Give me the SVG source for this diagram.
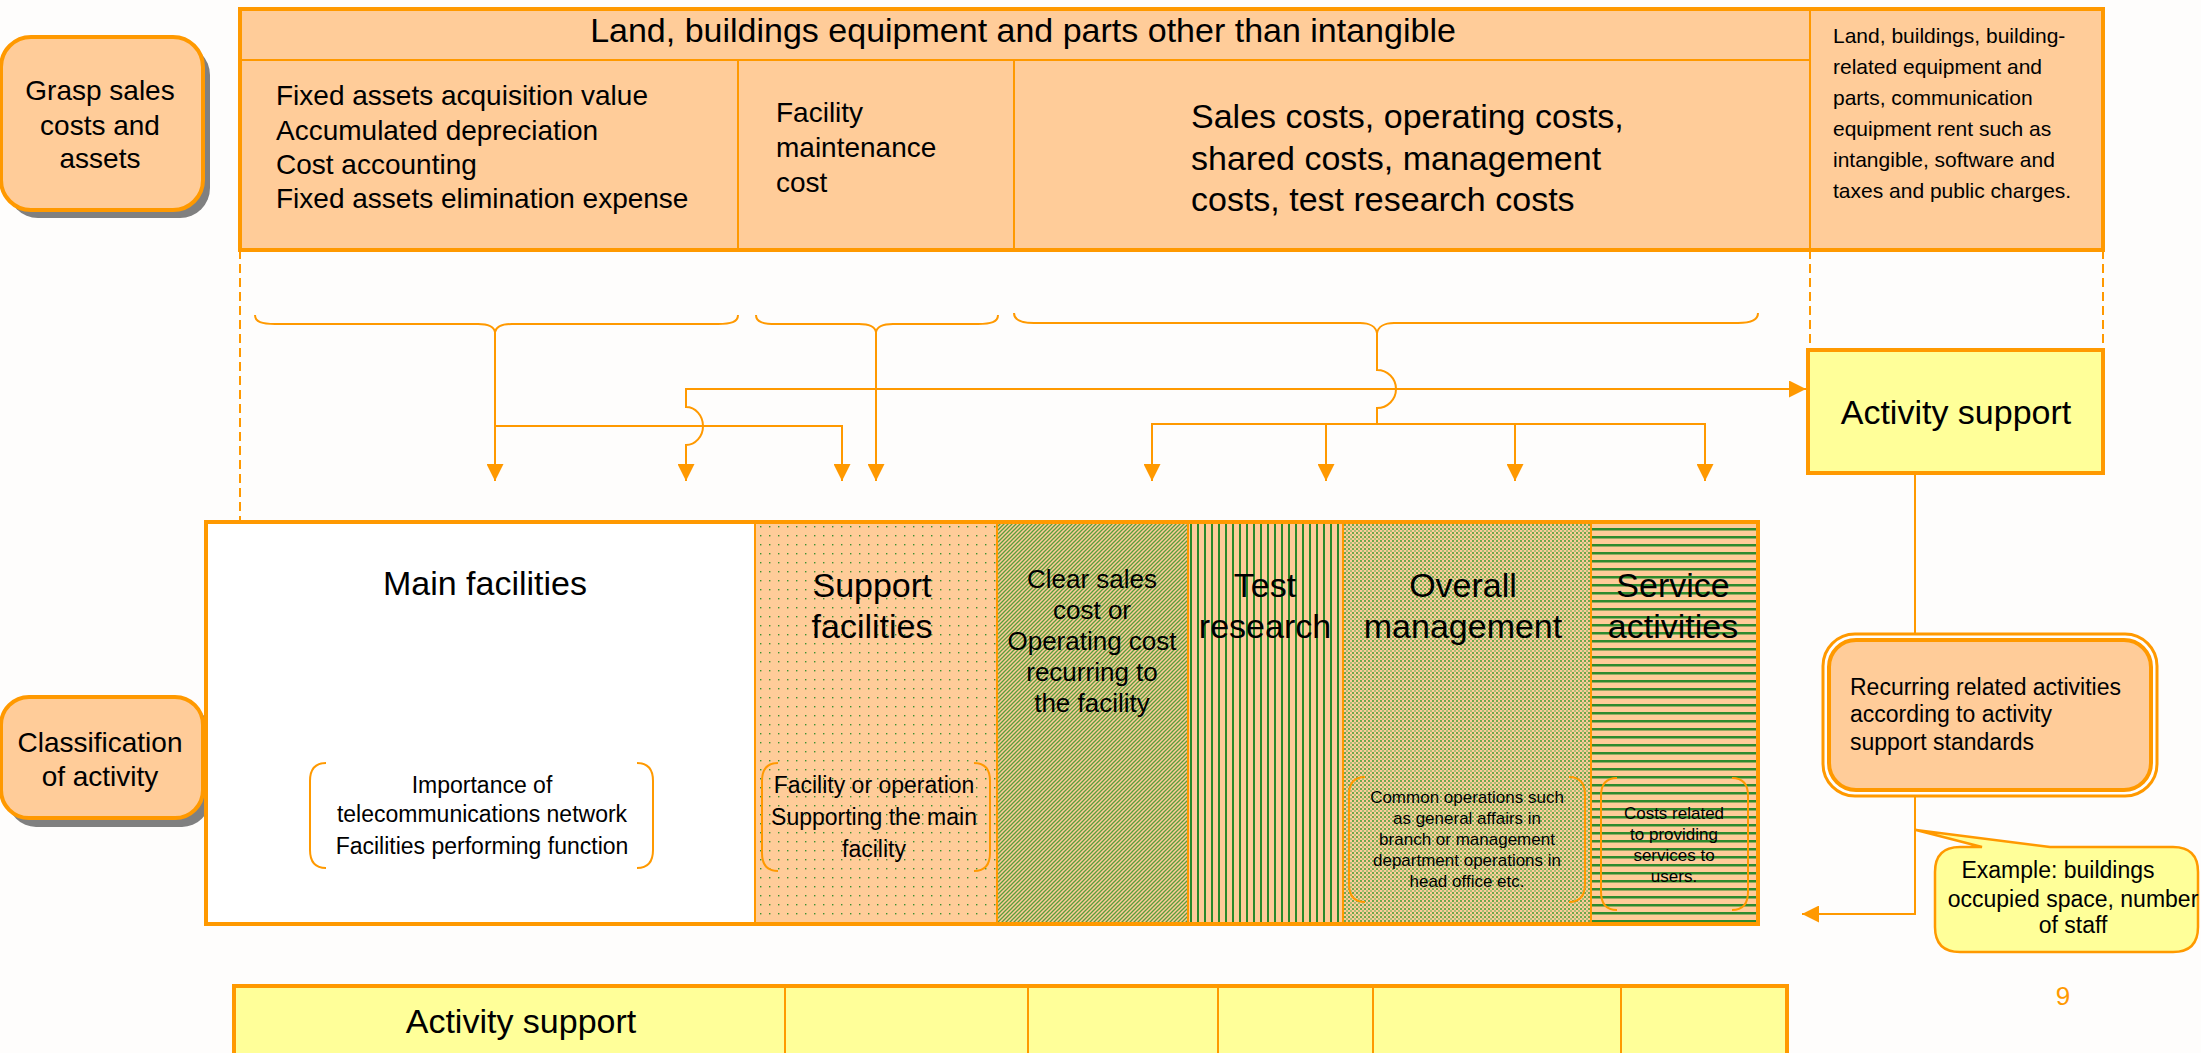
<svg xmlns="http://www.w3.org/2000/svg" width="2201" height="1053" viewBox="0 0 2201 1053">
<style>
text{font-family:"Liberation Sans",Arial,sans-serif;fill:#000}
.box{fill:#FFCC99;stroke:#FF9900;stroke-width:4}
.ybox{fill:#FFFF99;stroke:#FF9900;stroke-width:4}
.thin{stroke:#FF9900;stroke-width:2;fill:none}
.conn{stroke:#FF9900;stroke-width:2;fill:none}
.dash{stroke:#FF9900;stroke-width:2;fill:none;stroke-dasharray:9 5}
.br{stroke:#FF9900;stroke-width:2;fill:none}
.c{text-anchor:middle}
</style>
<defs>
<marker id="ah" viewBox="0 0 16 16" refX="16" refY="8" markerWidth="17" markerHeight="17" markerUnits="userSpaceOnUse" orient="auto-start-reverse">
<path d="M0,0 L16,8 L0,16 z" fill="#FF9900"/>
</marker>
<pattern id="dots" width="9" height="9" patternUnits="userSpaceOnUse">
<rect width="9" height="9" fill="#FFCC99"/><rect x="4" y="4" width="1.4" height="1.4" fill="#3A9030"/>
</pattern>
<pattern id="diag" width="4" height="4" patternUnits="userSpaceOnUse">
<rect width="4" height="4" fill="#FFCC99"/><path d="M-1,5 L5,-1 M-1,1 L1,-1 M3,5 L5,3" stroke="#5A9E3C" stroke-width="1.3"/>
</pattern>
<pattern id="vert" width="7" height="7" patternUnits="userSpaceOnUse">
<rect width="7" height="7" fill="#FFCC99"/><rect width="2" height="7" fill="#2A8A2A"/>
</pattern>
<pattern id="check" width="4" height="4" patternUnits="userSpaceOnUse">
<rect width="4" height="4" fill="#FFCC99"/><rect width="2" height="2" fill="#6FA84C"/><rect x="2" y="2" width="2" height="2" fill="#A9BE74"/>
</pattern>
<pattern id="horiz" width="8" height="8" patternUnits="userSpaceOnUse">
<rect width="8" height="8" fill="#FFCC99"/><rect width="8" height="2.5" fill="#2E8B2E"/>
</pattern>
</defs>
<rect width="2201" height="1053" fill="#FEFDFC"/>

<g id="grasp">
<rect x="8" y="45" width="202" height="173" rx="30" fill="#808080"/>
<rect x="1" y="37" width="202" height="173" rx="30" class="box" stroke-width="3"/>
<text class="c" font-size="28"><tspan x="100" y="100">Grasp sales</tspan><tspan x="100" y="135">costs and</tspan><tspan x="100" y="168">assets</tspan></text>
</g>

<g id="costs">
<rect x="240" y="9" width="1863" height="241" class="box"/>
<path d="M240,60 H1810 M738,60 V250 M1014,60 V250 M1810,9 V250" class="thin"/>
<text class="c" font-size="34" x="1023" y="42">Land, buildings equipment and parts other than intangible</text>
<text font-size="28"><tspan x="276" y="105">Fixed assets acquisition value</tspan><tspan x="276" y="140">Accumulated depreciation</tspan><tspan x="276" y="174">Cost accounting</tspan><tspan x="276" y="208">Fixed assets elimination expense</tspan></text>
<text font-size="28"><tspan x="776" y="122">Facility</tspan><tspan x="776" y="157">maintenance</tspan><tspan x="776" y="192">cost</tspan></text>
<text font-size="34"><tspan x="1191" y="128">Sales costs, operating costs,</tspan><tspan x="1191" y="170">shared costs, management</tspan><tspan x="1191" y="211">costs, test research costs</tspan></text>
<text font-size="21"><tspan x="1833" y="43">Land, buildings, building-</tspan><tspan x="1833" y="74">related equipment and</tspan><tspan x="1833" y="105">parts, communication</tspan><tspan x="1833" y="136">equipment rent such as</tspan><tspan x="1833" y="167">intangible, software and</tspan><tspan x="1833" y="198">taxes and public charges.</tspan></text>
</g>

<g id="classification">
<rect x="8" y="705" width="202" height="122" rx="28" fill="#808080"/>
<rect x="1" y="697" width="202" height="121" rx="28" class="box" stroke-width="3"/>
<text class="c" font-size="28"><tspan x="100" y="752">Classification</tspan><tspan x="100" y="786">of activity</tspan></text>
</g>

<g id="activities">
<rect x="206" y="522" width="549" height="402" fill="#FFFFFF"/>
<rect x="755" y="522" width="242" height="402" fill="url(#dots)"/>
<rect x="997" y="522" width="191" height="402" fill="url(#diag)"/>
<rect x="1188" y="522" width="155" height="402" fill="url(#vert)"/>
<rect x="1343" y="522" width="248" height="402" fill="url(#check)"/>
<rect x="1591" y="522" width="167" height="402" fill="url(#horiz)"/>
<path d="M755,522 V924 M997,522 V924 M1188,522 V924 M1343,522 V924 M1591,522 V924" class="thin"/>
<rect x="206" y="522" width="1552" height="402" fill="none" stroke="#FF9900" stroke-width="4"/>
<text class="c" font-size="34" x="485" y="595">Main facilities</text>
<text class="c" font-size="34"><tspan x="872" y="597">Support</tspan><tspan x="872" y="638">facilities</tspan></text>
<text class="c" font-size="26"><tspan x="1092" y="588">Clear sales</tspan><tspan x="1092" y="619">cost or</tspan><tspan x="1092" y="650">Operating cost</tspan><tspan x="1092" y="681">recurring to</tspan><tspan x="1092" y="712">the facility</tspan></text>
<text class="c" font-size="34"><tspan x="1265" y="597">Test</tspan><tspan x="1265" y="638">research</tspan></text>
<text class="c" font-size="34"><tspan x="1463" y="597">Overall</tspan><tspan x="1463" y="638">management</tspan></text>
<text class="c" font-size="34"><tspan x="1673" y="597">Service</tspan><tspan x="1673" y="638">activities</tspan></text>
<path class="br" d="M326,763 C314,763 310,771 310,781 L310,850 C310,860 314,868 326,868 M637,763 C649,763 653,771 653,781 L653,850 C653,860 649,868 637,868"/>
<text class="c" font-size="23"><tspan x="482" y="793">Importance of</tspan><tspan x="482" y="822">telecommunications network</tspan><tspan x="482" y="854">Facilities performing function</tspan></text>
<path class="br" d="M778,763 C766,763 762,771 762,781 L762,853 C762,863 766,871 778,871 M974,763 C986,763 990,771 990,781 L990,853 C990,863 986,871 974,871"/>
<text class="c" font-size="23"><tspan x="874" y="793">Facility or operation</tspan><tspan x="874" y="825">Supporting the main</tspan><tspan x="874" y="857">facility</tspan></text>
<path class="br" d="M1365,777 C1353,777 1349,785 1349,795 L1349,884 C1349,894 1353,902 1365,902 M1569,777 C1581,777 1585,785 1585,795 L1585,884 C1585,894 1581,902 1569,902"/>
<text class="c" font-size="17"><tspan x="1467" y="803">Common operations such</tspan><tspan x="1467" y="824">as general affairs in</tspan><tspan x="1467" y="845">branch or management</tspan><tspan x="1467" y="866">department operations in</tspan><tspan x="1467" y="887">head office etc.</tspan></text>
<path class="br" d="M1617,778 C1605,778 1601,786 1601,796 L1601,892 C1601,902 1605,910 1617,910 M1732,778 C1744,778 1748,786 1748,796 L1748,892 C1748,902 1744,910 1732,910"/>
<text class="c" font-size="17"><tspan x="1674" y="819">Costs related</tspan><tspan x="1674" y="840">to providing</tspan><tspan x="1674" y="861">services to</tspan><tspan x="1674" y="882">users.</tspan></text>
</g>

<g id="activity-support">
<rect x="1808" y="350" width="295" height="123" class="ybox"/>
<text class="c" font-size="34" x="1956" y="424">Activity support</text>
</g>

<g id="recurring">
<rect x="1823" y="634" width="334" height="162" rx="32" fill="#FFFFFF" stroke="#FF9900" stroke-width="3"/>
<rect x="1829" y="640" width="322" height="150" rx="27" fill="#FFCC99" stroke="#FF9900" stroke-width="4"/>
<text font-size="23"><tspan x="1850" y="695">Recurring related activities</tspan><tspan x="1850" y="722">according to activity</tspan><tspan x="1850" y="750">support standards</tspan></text>
</g>

<g id="example">
<path d="M1960,847 L1982,847 L1916,830 L2050,847 L2173,847 Q2198,847 2198,872 L2198,927 Q2198,952 2173,952 L1960,952 Q1935,952 1935,927 L1935,872 Q1935,847 1960,847 z" fill="#FFFF99" stroke="#FF9900" stroke-width="2.5"/>
<text class="c" font-size="23"><tspan x="2058" y="878">Example: buildings</tspan><tspan x="2073" y="907">occupied space, number</tspan><tspan x="2073" y="933">of staff</tspan></text>
</g>

<g id="support-row">
<rect x="234" y="986" width="1553" height="90" fill="#FFFF99" stroke="#FF9900" stroke-width="4"/>
<path d="M785,986 V1053 M1028,986 V1053 M1218,986 V1053 M1373,986 V1053 M1621,986 V1053" class="thin"/>
<text class="c" font-size="34" x="521" y="1033">Activity support</text>
</g>

<text id="page" class="c" font-size="26" x="2063" y="1005" style="fill:#FF9900">9</text>

<g id="connectors">
<path class="dash" d="M240,250 V522 M1810,250 V350 M2103,250 V350"/>
<path class="br" d="M255,315 C255,322 262,324 275,324 L478,324 C488,324 494,327 495,332 C496,327 502,324 512,324 L718,324 C731,324 738,322 738,315"/>
<path class="br" d="M756,315 C756,322 763,324 776,324 L859,324 C869,324 875,327 876,332 C877,327 883,324 893,324 L978,324 C991,324 998,322 998,315"/>
<path class="br" d="M1014,313 C1014,320 1021,323 1034,323 L1360,323 C1370,323 1376,327 1377,333 C1378,327 1384,323 1394,323 L1738,323 C1751,323 1758,320 1758,313"/>
<path class="conn" d="M495,332 V481" marker-end="url(#ah)"/>
<path class="conn" d="M495,426 H842 V481" marker-end="url(#ah)"/>
<path class="conn" d="M876,332 V481" marker-end="url(#ah)"/>
<path class="conn" stroke-width="2.5" d="M1806,389 H686 V407 A17,19 0 0 1 686,445 V481" marker-start="url(#ah)" marker-end="url(#ah)"/>
<path class="conn" d="M1377,333 V370 A19,19 0 0 1 1377,408 V424"/>
<path class="conn" d="M1377,424 H1152 V481" marker-end="url(#ah)"/>
<path class="conn" d="M1377,424 H1705 V481" marker-end="url(#ah)"/>
<path class="conn" d="M1326,424 V481" marker-end="url(#ah)"/>
<path class="conn" d="M1515,424 V481" marker-end="url(#ah)"/>
<path class="conn" d="M1915,473 V634"/>
<path class="conn" d="M1915,796 V914 H1802" marker-end="url(#ah)"/>
</g>
</svg>
